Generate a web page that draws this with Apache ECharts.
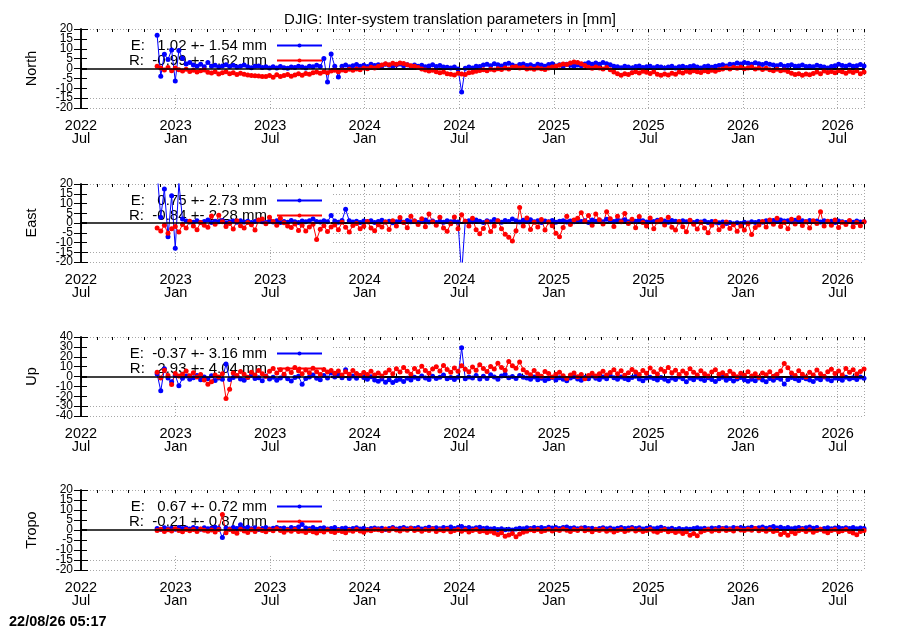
<!DOCTYPE html>
<html>
<head>
<meta charset="UTF-8">
<title>DJIG: Inter-system translation parameters</title>
<script src="https://cdn.jsdelivr.net/npm/echarts@6/dist/echarts.min.js"></script>
</head>
<body style="margin:0;background:#fff;">
<div id="main" style="width:900px;height:630px;"></div>
<script>
// panels, top to bottom
var panelNames = ['North', 'East', 'Up', 'Tropo'];
var yLimit = [20, 20, 40, 20];
var yStep = [5, 5, 10, 5];
var tickLabels = ['2022\nJul', '2023\nJan', '2023\nJul', '2024\nJan', '2024\nJul',
                  '2025\nJan', '2025\nJul', '2026\nJan', '2026\nJul'];
var legendE = ['E:   1.02 +- 1.54 mm', 'E:   0.75 +- 2.73 mm', 'E:  -0.37 +- 3.16 mm', 'E:   0.67 +- 0.72 mm'];
var legendR = ['R:  -0.99 +- 1.62 mm', 'R:  -0.84 +- 2.28 mm', 'R:   2.93 +- 4.04 mm', 'R:  -0.21 +- 0.87 mm'];

// axis span and sampling of the series (one value every 7 days)
var axisStart = '2022-07-01';
var axisEnd = '2026-08-21';
var firstDay = '2022-11-25';
var stepDays = 7;

var northE = [16.8, -3.9, 7.2, 4.6, 9.4, -6.3, 9.1, 5.2, 2.3, 3.1,
  1.8, 1.2, 2.1, 0.9, 3.0, 1.1, 1.7, 0.8, 1.3, 1.9,
  1.0, 1.6, 0.7, 1.2, 1.8, 0.9, 0.4, 1.1, 1.3, 0.5, 0.9,
  0.3, 0.9, 0.2, 1.0, 0.4, 0.1, 0.8, 0.5, 1.1, 0.7, 0.3, 1.2, 0.9, 1.6, 1.0,
  5.1, -6.8, 7.3, 1.2, -4.3,
  1.1, 1.8, 0.9, 1.4, 2.0, 1.2, 1.7, 1.0, 2.2, 1.5,
  1.9, 1.3, 2.1, 1.6, 1.1, 1.8, 2.3, 1.4, 1.9, 1.2,
  1.8, 1.1, 1.6, 0.9, 1.3, 1.9, 1.0, 1.5, 0.8, 0.6,
  0.2, 0.8, -0.3, -11.9, 0.1, 0.7, 0.3, 1.2, 1.0, 1.8,
  2.1, 1.4, 2.4, 1.9, 1.3, 2.2, 2.7, 1.8, 1.2, 2.0,
  2.3, 1.5, 1.9, 1.2, 2.1, 1.8, 1.1, 2.0, 2.4, 1.3,
  1.9, 1.2, 2.2, 1.7, 1.1, 1.8, 1.4, 2.3, 2.9, 2.1,
  2.8, 2.2, 3.1, 2.4, 1.9, 1.2, 0.9, 0.4, 1.1, 0.8,
  0.3, 1.0, 1.3, 0.5, 0.9, 1.2, 0.4, 1.0, 0.7, 0.2,
  0.8, 1.1, 0.3, 0.9, 1.2, 0.5, 1.0, 1.4, 0.7, 0.3,
  1.0, 1.3, 0.6, 1.1, 1.5, 1.9, 1.3, 2.2, 2.0, 2.8,
  2.3, 3.0, 2.6, 2.1, 2.9, 2.4, 2.0, 2.7, 2.2, 1.8,
  1.4, 2.0, 1.2, 1.5, 1.9, 1.1, 1.3, 1.8, 1.0, 1.2,
  0.9, 1.6, 1.2, 0.8, 0.3, 1.0, 1.4, 2.1, 1.5, 1.2,
  1.8, 1.1, 1.4, 2.0, 1.3];

var northR = [1.2, 0.3, -0.8, 0.5, -1.1, 0.2, -0.6, -1.3, -0.4, -1.5,
  -0.9, -1.8, -1.2, -0.7, -1.9, -2.3, -1.6, -2.8, -2.1, -1.7,
  -2.6, -2.2, -3.0, -2.4, -2.9, -3.3, -3.5, -3.7, -3.8, -4.0, -4.1,
  -3.6, -4.4, -3.2, -4.0, -3.5, -3.1, -3.9, -3.3, -2.7, -3.4, -2.5, -2.9, -2.2, -1.8, -2.4,
  -1.6, -2.1, -1.3, -0.9, -1.7,
  -0.8, -1.2, -0.4, -0.9, -0.2, -0.6, 0.3, -0.1, 0.6, 0.2,
  1.0, 1.8, 2.4, 1.9, 2.7, 2.2, 2.8, 2.5, 1.9, 1.4,
  1.1, 0.5, -0.2, -0.8, -1.3, -0.9, -1.7, -2.2, -1.8, -2.6,
  -2.9, -3.3, -2.4, -2.8, -3.1, -2.2, -1.9, -1.4, -1.0, -0.6,
  -1.2, -0.4, -0.8, -0.1, -0.5, 0.3, -0.2, 0.6, 0.9, 0.2,
  0.5, -0.3, 0.1, -0.4, 0.3, -0.1, -0.5, 0.2, 0.8, 1.2,
  1.6, 2.3, 2.0, 2.8, 3.3, 3.0, 2.4, 1.5, 0.6, 0.1,
  0.7, 0.3, -0.2, 0.5, -0.6, -1.8, -2.7, -3.4, -2.6, -3.0,
  -2.2, -1.6, -2.3, -1.4, -1.9, -2.5, -1.7, -2.9, -3.4, -2.8,
  -3.3, -2.4, -2.9, -1.8, -2.3, -1.4, -1.9, -1.1, -1.6, -2.0,
  -1.2, -1.7, -0.9, -1.4, -0.6, -0.2, 0.4, -0.3, 0.5, 0.1,
  0.6, -0.1, 0.3, 0.7, -0.2, 0.2, -0.5, 0.1, -0.6, -1.1,
  -0.4, -1.2, -0.7, -1.5, -2.4, -3.1, -2.6, -3.4, -2.8, -3.2,
  -2.5, -1.8, -2.6, -1.3, -2.0, -1.5, -2.2, -1.1, -1.7, -2.4,
  -1.4, -2.0, -1.2, -2.6, -1.8];

var eastE = [26.0, 3.0, 17.5, -7.0, 14.0, -13.0, 20.5, 2.0, 1.0, 0.5,
  0.4, 1.1, 0.2, 0.8, 1.5, 0.3, 0.9, 0.6, 1.3, 0.1, 0.7, 1.0, 0.4, 1.2, 0.5, 0.9, 0.2, 0.8, 1.4, 0.6, 0.3,
  0.9, 0.5, 1.1, 0.2, 0.8, 0.4, 1.3, 0.7, 0.3, 1.0, 0.6, 1.2, 2.1, 0.8, 0.5,
  1.1, 0.6, 3.9, 1.0, 0.4, 1.3, 7.0, 1.2, 0.5, 0.9,
  0.3, 1.0, 0.6, 1.2, 0.2, 0.8, 1.4, 0.5, 0.9, 0.1, 0.7, 1.1, 0.4, 1.3, 0.6, 1.0, 0.2, 0.8, 1.5, 0.5, 1.0, 0.3, 0.9, 0.4, 1.2, 0.6, 0.8,
  0.5, -26.0, 0.9,
  1.2, 0.6, 1.5, 0.9, 0.3, 1.1, 0.7, 1.8, 1.0, 0.4,
  1.3, 0.8, 2.0, 1.1, 0.5, 1.4, 0.9, 1.7, 0.6, 1.2,
  0.3, 1.0, 0.7, 1.3, 0.4, 0.9, 1.2, 0.5, 1.0, 0.6,
  1.4, 0.8, 1.1, 0.3, 1.6, 0.9, 1.3, 0.6, 1.9, 1.2,
  0.8, 1.5, 1.0, 1.7, 0.7, 1.3, 0.9, 1.6, 1.1, 0.5,
  1.2, 0.8, 1.4, 0.6, 1.0, 0.4, 1.3, 0.9, 0.5, 1.1,
  0.7, 1.2, 0.3, 0.9, 0.5, 1.0, 0.2, 0.8, 0.4, 0.1,
  0.5, -0.2, 0.3, -0.4, 0.1, -0.3, 0.4, 0.0, 0.6, 0.2,
  0.8, 0.4, 1.1, 0.6, 1.3, 0.9, 1.5, 1.0, 1.2, 0.7,
  1.4, 0.9, 1.1, 0.6, 1.3, 0.8, 1.0, 0.5, 1.2, 0.7,
  0.9, 0.3, 1.0, 0.6, 0.2, 0.8, 0.4, 1.0, 0.5, 0.7];

var eastR = [-2.5, -4.1, -1.2, -5.3, -3.0, -1.8, -4.6,
  -0.8, -2.6, 0.9, -1.5, -3.4, 0.3, -1.1, -2.2, 3.6, -0.6, 4.0, 0.7, -1.8, -0.3, -3.1, 1.1, -1.4, -2.5, 0.2, -0.9, -3.6, 1.5,
  2.1, -0.4, 3.0, 0.8, -1.2, 2.5, 0.1, -1.6,
  -2.3, -0.5, -3.8, -1.2, -4.1, -2.0, -0.7, -8.5, -3.2, -1.4, -4.4, -2.1,
  -1.0, -3.5, 0.4, -2.2, -4.6, -1.3, -0.2, -3.0, -1.7, 0.8, -2.6, -4.0, -0.9, -2.1, 0.5, -3.3,
  1.2, -1.5, 2.8, 0.3, -2.4, 3.5, 1.0, -0.8, 2.2, -1.9, 4.6, 0.6, -1.1, 2.9, -2.6, -4.2, -0.4, 3.1, -3.0,
  4.2, 0.9, -1.6, 2.4, -3.5, -5.5,
  -2.8, 0.6, -4.3, -1.5,
  1.2, -2.9, -5.8, -7.3, -9.2, -4.0, 8.0, -1.5, 2.6, -3.3, 0.4,
  -2.0, 1.8, -3.6, 0.5, -1.4, -5.2, -7.0, -2.3, 3.5, -0.8, 1.6,
  2.5, 5.3, 0.9, 3.8, -1.2, 4.6, 1.7, -0.5, 5.8, 2.2, -1.8, 3.4, 0.6, 4.9, -0.3,
  1.9, -2.4, 3.3, 0.2, -1.5, 2.6, -2.9, 0.7, 1.8, -1.0, 3.0, -2.2,
  -3.6, 0.8, -1.9, -4.5, 1.4, -0.6, -3.1, 0.3, -2.5, -5.0, -1.2, 0.9, -3.4, -1.7, 0.5,
  -2.8, -0.9, -4.2, -1.5, -3.6, -0.4, -5.9, -2.3, -1.0,
  0.8, -2.1, 1.5, -0.7, 2.4, -1.8, 0.3, -3.0, 1.9, -0.5, 2.7, -1.3, 0.6, -2.6, 1.2, -0.2, 5.8, -1.5, 0.9,
  -1.1, 1.6, -2.3, 0.4, -0.8, 1.3, -1.9, 0.2, -1.4, 0.7];

var upE = [2.5, -14.5, 7.8, -1.5, -5.2, 1.3, -9.3,
  -1.8, 0.5, -2.9, -1.2, 1.0, -3.4, -0.6, -2.2, 0.8, -4.1, -1.5, -2.7, 12.6, -3.0, -1.0, 0.4, -2.5, -3.8, -0.9, 1.2, -2.0, -1.3, -4.4, 0.6,
  -2.6, -0.8, -3.9, -1.5, 0.7, -2.3, -4.6, -1.1, 0.3, -7.9, -2.0, -0.5, 1.5, -1.8, -3.2, 0.9, -1.4, 3.5,
  -0.6, 1.8, -1.3, 6.8, -2.1, 0.4, -1.7, 1.1, -0.9, -2.8, -0.2, -3.6, -4.8, -2.5, -5.9, -3.3, -6.2, -4.0, -2.7, -5.1, -1.8, -3.5, -0.8, -2.4, 0.6, -1.5, -3.0, 0.2, -1.9, -0.7, 1.4, -2.2, -1.0,
  -3.1, -0.8, 29.0, -2.2, -0.5,
  -1.4, 0.9, -2.6, 0.3, -1.9, 1.7, -0.6, -2.8, 0.5, 2.4, -1.2, 0.1, -2.1, 1.0, -0.8,
  -1.5, -2.7, -0.4, -3.2, -1.8, -4.0, -2.3, -0.9, -3.6, -1.2, -2.8, -4.4, -1.6, -0.3, -2.5, -3.8, -1.0, -2.2, 0.4, -1.7,
  -3.0, -0.6, -2.4, 0.8, -1.3, -2.9, -0.5, -1.9, -3.4, -1.1, 0.2, -2.6, -4.2, -1.4, -0.7,
  -2.1, -3.6, -0.9, -2.8, -4.5, -1.5, -3.1, -0.4, -2.4, -5.2, -1.8, -3.4, -0.7, -2.6, -4.1, -1.2, -3.0, -5.0, -2.2, -0.8,
  -3.7, -1.9, -4.6, -2.5, -1.1, -3.3, -4.8,
  -2.9, -4.3, -1.6, -3.5, -5.4, -2.0, -3.8, -1.3, -2.7, -7.6, -3.1, -1.0, -2.4, -4.0, -0.9, -2.2,
  -3.6, -5.1, -1.7, -3.3, -0.6, -2.8, -4.4, -1.5, -2.1, -3.9, -0.8, -2.5, -1.2, -3.0, -0.4, -1.8];

var upR = [4.2, -1.5, 6.3, 1.0, -8.0, 3.1, 0.5,
  2.4, 5.6, 0.8, 3.9, -0.6, 2.1,
  -3.5, -7.8, -5.2,
  1.5, -0.4, 2.8,
  -22.3, -12.8,
  3.6, 0.9, 5.1, 2.2, -0.8, 4.4, 1.6, 6.2, 2.9, 0.3,
  5.4, 8.1, 3.6, 6.9, 2.3, 7.5, 4.0, 9.2, 5.8, 2.7, 6.6, 3.9, 8.4, 4.8, 1.9, 7.0, 4.5, 6.1,
  3.2, 5.5, 1.6, 4.7, 2.4, 6.0, 3.0, 0.9, 4.1, 2.0, 5.2, 1.4, 3.6, 0.6,
  3.8, 6.5, 2.7, 7.9, 4.6, 9.1, 5.3, 2.2, 8.0, 4.9, 10.4, 6.1, 3.4, 7.7, 9.8, 5.5, 11.2, 7.0, 4.3,
  8.6, 5.2, 10.9, 7.4, 4.8, 9.5, 6.3, 11.8, 8.1, 5.0, 10.2, 7.5, 13.5, 9.0, 6.4, 15.2, 11.0, 8.3, 14.6, 6.9,
  4.1, 1.8, 6.2, 2.5, 0.3, 5.0, 3.1, -0.6, 2.2, 4.4, 0.8, -1.9, 1.5, 3.6, -0.2, 2.0, -2.4, 1.1, 3.4, 0.4, 2.8, 5.3,
  1.6, 4.0, 6.8, 2.9, 5.7, 1.3, 3.9, 7.2, 4.5, 2.1, 6.0, 3.3, 8.5, 4.8, 2.6, 7.4, 5.1, 9.0, 3.7, 6.3, 2.0, 5.6,
  3.0, 7.8, 4.2, 1.5, 5.9, 2.7, 0.4, 4.6, 6.9, 2.2, 3.8, 0.9, 5.3, 2.5, -0.3, 3.4, 1.2, 4.7, 0.6, 2.9, -0.8, 3.6, 1.8, 4.9, 0.2, 2.4, 5.5,
  13.2, 8.8,
  3.5, 1.0, 5.8, 2.4, -0.6, 4.2, 1.6, 6.5, 2.9, 0.3, 4.8, 7.3, 3.1, 5.6, 1.4, 8.2, 4.4, 6.9, 2.6, 5.0, 7.6];

var tropoE = [0.8, 0.3, 1.1, 0.6, 0.9, 0.4, 1.2, 0.7, 1.0, 0.5, 1.3, 0.8, 0.4, 1.1, 0.6, 0.9, 1.4, 0.7,
  -3.8,
  1.0, 0.5, 1.3, 0.8,
  2.6,
  0.9, 1.4, 0.6, 1.1, 0.3, 0.8, 1.2, 0.5, 0.9, 1.3, 0.7, 1.0, 0.4, 1.2, 0.8, 1.5,
  2.7,
  1.0, 0.6, 1.3, 0.4, 0.9, 1.1, 0.5, 0.8, 1.2, 0.3,
  0.7, 1.0, 0.4, 0.8, 1.1, 0.5, 0.9, 0.2, 0.7, 1.0,
  0.6, 0.9, 0.3, 0.8, 1.2, 0.5, 0.9, 1.3, 0.6, 1.0,
  0.7, 1.2, 0.5, 0.9, 1.4, 0.8, 1.1, 0.6, 1.3, 0.9,
  1.5, 0.8, 1.2, 1.7, 0.9, 1.3, 0.6, 1.1, 1.4, 0.7,
  1.0, 0.5, 0.8, 0.3, 0.6, 0.1, 0.4, 0.0, 0.5, 0.9,
  0.6, 1.1, 0.8, 1.3, 0.9, 1.2, 0.7, 1.4, 1.0, 1.3,
  0.8, 1.2, 1.5, 0.9, 1.1, 0.6, 1.0, 1.3, 0.7, 0.9,
  0.4, 0.8, 1.1, 0.6, 1.0, 0.5, 0.9, 1.2, 0.7, 1.0,
  1.3, 0.8, 1.1, 0.5, 0.9, 1.2, 0.6, 1.0, 1.4, 0.8,
  0.5, 0.9, 0.3, 0.7, 0.2, 0.6, 0.4, 0.8, 1.1, 0.6,
  0.9, 0.5, 1.0, 0.7, 1.2, 0.8, 1.1, 0.6, 1.3, 0.9,
  1.2, 0.7, 1.0, 1.4, 0.8, 1.1, 1.5, 0.9, 1.3, 1.8,
  1.0, 1.4, 0.8, 1.2, 0.6, 1.0, 1.3, 0.7, 1.1, 1.5,
  0.9, 1.2, 0.4, 0.8, 1.1, 0.6, 1.0, 1.3, 0.7, 1.1,
  0.8, 1.2, 0.6, 1.0, 0.7];

var tropoR = [-0.3, 0.4, -0.8, 0.1, -0.5, 0.6, -0.2, -0.9, 0.3, -0.4, 0.2, -0.7, 0.5, -0.1, -0.6, 0.0, -1.0, 0.3,
  7.8,
  -1.4, 0.2, -0.8, -1.6, 0.4, -0.5, -1.2, 0.1, -0.7, 0.5, -0.3, -0.9, 0.2, -0.4, 0.6, -0.2, -1.1, 0.0, -0.6, 0.3, -0.8,
  -0.5, -1.3, -0.2, -0.9, -1.5, -0.4, -1.0, 0.1, -0.7, -1.2, -0.3, -0.8, -1.4, -0.1, -0.6, 0.2, -0.5, -1.1, 0.0, -0.4, 0.3,
  0.1, -0.4, 0.5, -0.2, 0.6, 0.0, -0.5, 0.4, -0.1, 0.7, -0.3, 0.2, -0.6, 0.3, -0.2, 0.5, -0.7, 0.1, -0.4, 0.4,
  -0.9, -0.2, 0.3, -0.6, 0.1, -1.0, -0.3, 0.2, -0.8, -0.4, -1.2, -0.6, -1.5,
  -2.2, -1.4, -3.1, -2.5, -1.7, -3.4, -2.0, -1.1,
  -0.6, 0.1, -0.4, 0.3, -0.8, -0.2, 0.4, -0.5, 0.2, -0.3, 0.5, -0.1, -0.7, 0.3, -0.2, 0.6, -0.4, 0.1, -0.9, 0.2,
  -0.3, 0.4, -0.6, 0.0, -1.0, -0.3, 0.3, -0.7, -0.1, 0.5, -0.5, 0.1, -0.8, -0.2, 0.4, -0.6, -1.1, -0.3, 0.2, -0.9,
  -0.4, -1.3, -0.6, -1.7, -0.9,
  -2.6, -1.8, -2.9,
  -1.0, -0.3, 0.2, -0.6, 0.1, -0.4, 0.5, -0.2, 0.3, -0.5, 0.6, 0.0, -0.3, 0.4, -0.1, 0.7, -0.4, 0.2, -0.6, 0.3, -0.8, -0.2,
  -2.3, -1.2, -2.6, -0.9, -1.8,
  -0.4, 0.3, -0.7, 0.1, -1.1, -0.3, 0.4, -0.6, -1.4, -0.2, 0.2, -0.9, -0.4, 0.3, -0.7, -1.5, -2.4, -0.8, -0.2];

var valuesE = [northE, eastE, upE, tropoE];
var valuesR = [northR, eastR, upR, tropoR];

var font = 'Liberation Sans, Arial, Helvetica, sans-serif';
var gridTop = [29, 184, 337, 490];
var gridHeight = [79, 78, 79, 80];
var DAY = 86400000;

function dayOf(s) {
  return (Date.parse(s) - Date.parse(axisStart)) / DAY;
}
var xMax = dayOf(axisEnd);
var halfYear = 182.625;
var month = halfYear / 6;
var day0 = dayOf(firstDay);

function toPoints(vals) {
  return vals.map(function (v, i) { return [day0 + i * stepDays, v]; });
}

function xLabel(v) {
  var k = Math.round(v / halfYear);
  if (Math.abs(v - k * halfYear) < 1e-6 && k < tickLabels.length) return tickLabels[k];
  return '';
}

var grids = [], xAxes = [], yAxes = [], series = [], legends = [], graphics = [];

panelNames.forEach(function (name, g) {
  grids.push({ left: 81, right: 36, top: gridTop[g], height: gridHeight[g], outerBoundsMode: 'none' });

  var border = { show: true, lineStyle: { color: '#000', width: 1.5 } };
  var lim = yLimit[g];
  // bottom axis: labels + vertical grid
  xAxes.push({
    gridIndex: g, type: 'value', position: 'bottom', min: 0, max: xMax, interval: halfYear,
    axisLine: border,
    axisTick: { show: true, inside: true, length: 6, lineStyle: { color: '#000', width: 1 } },
    axisLabel: { formatter: xLabel, color: '#000', fontSize: 14.5, lineHeight: 13.5, margin: 11,
                 fontFamily: font, hideOverlap: false },
    splitLine: { show: true, lineStyle: { color: '#a8a8a8', width: 1, type: [1, 2] } }
  });
  xAxes.push({
    gridIndex: g, type: 'value', position: 'bottom', min: 0, max: xMax, interval: month,
    axisLine: { show: false },
    axisTick: { show: true, inside: true, length: 3, lineStyle: { color: '#000', width: 1 } },
    axisLabel: { show: false }, splitLine: { show: false }
  });
  xAxes.push({
    gridIndex: g, type: 'value', position: 'top', min: 0, max: xMax, interval: halfYear,
    axisLine: border,
    axisTick: { show: true, inside: true, length: 6, lineStyle: { color: '#000', width: 1 } },
    axisLabel: { show: false }, splitLine: { show: false }
  });
  xAxes.push({
    gridIndex: g, type: 'value', position: 'top', min: 0, max: xMax, interval: month,
    axisLine: { show: false },
    axisTick: { show: true, inside: true, length: 3, lineStyle: { color: '#000', width: 1 } },
    axisLabel: { show: false }, splitLine: { show: false }
  });

  // left axis: inner tick labels, ticks, horizontal grid, name
  yAxes.push({
    gridIndex: g, type: 'value', position: 'left', min: -lim, max: lim, interval: yStep[g],
    name: name, nameLocation: 'middle', nameGap: 42,
    nameTextStyle: { color: '#000', fontSize: 14.5, fontFamily: font },
    axisLine: border,
    axisTick: { show: true, inside: true, length: 7, lineStyle: { color: '#000', width: 1 } },
    axisLabel: { color: '#000', fontSize: 12, margin: 8, fontFamily: font, hideOverlap: false,
                 formatter: function (v) { return Math.abs(v) === lim ? '' : String(v); } },
    splitLine: { show: true, lineStyle: { color: '#a8a8a8', width: 1, type: [1, 2] } }
  });
  // left axis again, only for the end labels (kept apart so none get dropped)
  yAxes.push({
    gridIndex: g, type: 'value', position: 'left', min: -lim, max: lim, interval: yStep[g],
    axisLine: { show: false }, axisTick: { show: false }, splitLine: { show: false },
    axisLabel: { color: '#000', fontSize: 12, margin: 8, fontFamily: font, hideOverlap: false,
                 showMinLabel: true, showMaxLabel: true,
                 formatter: function (v) { return Math.abs(v) === lim ? String(v) : ''; } }
  });
  yAxes.push({
    gridIndex: g, type: 'value', position: 'right', min: -lim, max: lim, interval: yStep[g],
    axisLine: border,
    axisTick: { show: true, inside: true, length: 7, lineStyle: { color: '#000', width: 1 } },
    axisLabel: { show: false }, splitLine: { show: false }
  });

  var common = {
    type: 'line', xAxisIndex: g * 4, yAxisIndex: g * 3,
    symbol: 'circle', symbolSize: 5, showAllSymbol: true, clip: true,
    animation: false, emphasis: { disabled: true }
  };
  series.push(Object.assign({}, common, {
    name: legendE[g], data: toPoints(valuesE[g]),
    lineStyle: { color: '#0000ff', width: 1 }, itemStyle: { color: '#0000ff' }
  }));
  series.push(Object.assign({}, common, {
    name: legendR[g], data: toPoints(valuesR[g]),
    lineStyle: { color: '#ff0000', width: 1 }, itemStyle: { color: '#ff0000' },
    markLine: {
      silent: true, symbol: 'none', label: { show: false },
      lineStyle: { color: '#000', width: 1.5, type: 'solid' },
      data: [{ yAxis: 0 }]
    }
  }));

  legends.push({
    orient: 'vertical', align: 'right', right: 577, top: gridTop[g] + 9,
    itemWidth: 45, itemHeight: 5, itemGap: 0, padding: 0, selectedMode: false, z: 1,
    data: [legendE[g], legendR[g]],
    textStyle: { color: '#000', fontSize: 15, lineHeight: 15, fontFamily: font, padding: [0, 5, 0, 0] }
  });

  // opaque key box hides the grid behind the key
  graphics.push({
    type: 'rect', silent: true, z: 0.5,
    shape: { x: 87, y: gridTop[g] + 6, width: 244, height: gridHeight[g] * 0.8125 - 6 },
    style: { fill: '#fff' }
  });
});

graphics.push({
  type: 'text', left: 9, top: 614, silent: true,
  style: { text: '22/08/26 05:17', fill: '#000', font: 'bold 14.5px ' + font }
});

var chart = echarts.init(document.getElementById('main'), null, { renderer: 'canvas' });
chart.setOption({
  backgroundColor: '#fff',
  animation: false,
  textStyle: { fontFamily: font },
  title: {
    text: 'DJIG: Inter-system translation parameters in [mm]', left: 'center', top: 7,
    textStyle: { color: '#000', fontSize: 15, fontWeight: 'normal', fontFamily: font }
  },
  grid: grids,
  xAxis: xAxes,
  yAxis: yAxes,
  legend: legends,
  graphic: graphics,
  series: series
});
</script>
</body>
</html>
